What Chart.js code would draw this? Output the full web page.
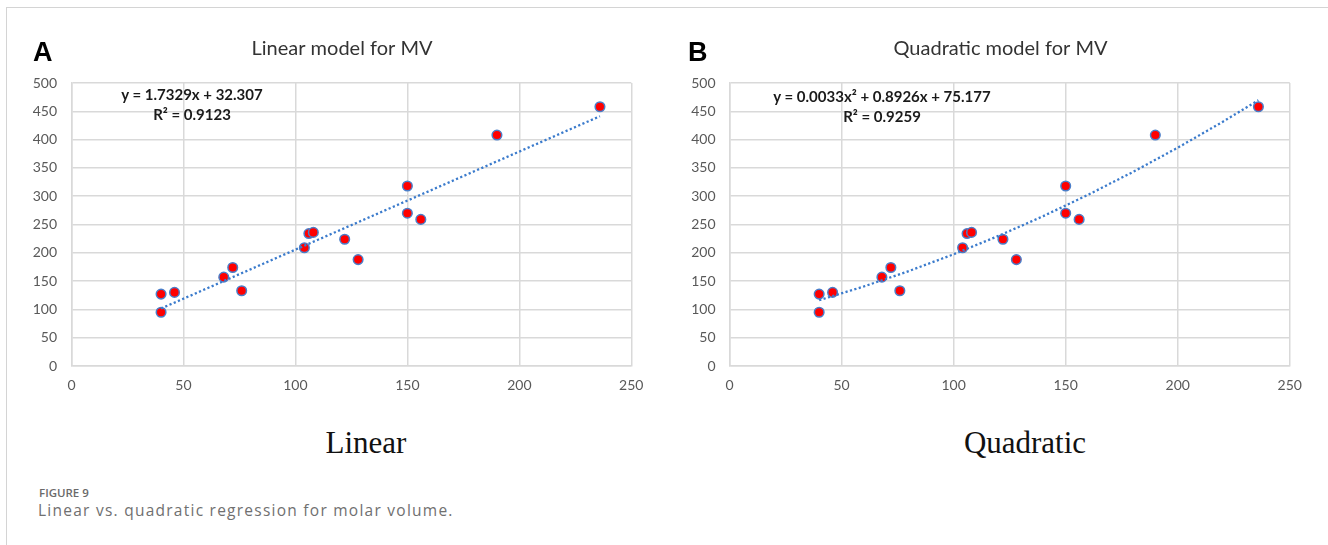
<!DOCTYPE html>
<html>
<head>
<meta charset="utf-8">
<script src="https://cdn.jsdelivr.net/npm/chart.js@4.4.0/dist/chart.umd.min.js"></script>
<style>
  html, body { margin: 0; padding: 0; background: #fff; overflow: hidden; }
  #page { position: relative; width: 1328px; height: 545px; overflow: hidden; }
  #frame { position: absolute; left: 6px; top: 7px; width: 1340px; height: 600px;
           border-top: 1.5px solid #d4d4d4; border-left: 1.5px solid #d4d4d4; }
  .box { position: absolute; top: 0; height: 410px; }
  .panel { position: absolute; font: bold 27px "Liberation Sans", Arial, sans-serif; line-height: 27px; color: #000; }
  .eq { position: absolute; width: 320px; text-align: center; font: bold 15px Lato, sans-serif;
        line-height: 15px; color: #1a1a1a; white-space: nowrap; }
  .model { position: absolute; width: 300px; text-align: center; font: 31px "Liberation Serif", serif;
           line-height: 31px; color: #111; }
  #fig { position: absolute; left: 39px; top: 487px; font: 600 11.5px "Open Sans", sans-serif;
         line-height: 12px; color: #6a6a6a; }
  #cap { position: absolute; left: 38px; top: 502px; font: 15.5px "Open Sans", sans-serif;
         line-height: 16px; color: #707070; letter-spacing: 1.25px; white-space: nowrap; }
</style>
</head>
<body>
<div id="page">
  <div id="frame"></div>
  <div class="box" style="left:0px;width:684px"><canvas id="chart_linear" width="684" height="410"></canvas></div>
  <div class="box" style="left:657.5px;width:685px"><canvas id="chart_quad" width="685" height="410"></canvas></div>

  <div class="panel" style="left:33px;top:39px">A</div>
  <div class="panel" style="left:688px;top:39px">B</div>

  <div class="eq" style="left:32px;top:87px">y = 1.7329x + 32.307</div>
  <div class="eq" style="left:32px;top:107px">R² = 0.9123</div>
  <div class="eq" style="left:722px;top:89px">y = 0.0033x² + 0.8926x + 75.177</div>
  <div class="eq" style="left:722px;top:109px">R² = 0.9259</div>

  <div class="model" style="left:216px;top:427px">Linear</div>
  <div class="model" style="left:875px;top:427px">Quadratic</div>

  <div id="fig">FIGURE 9</div>
  <div id="cap">Linear vs. quadratic regression for molar volume.</div>
</div>

<script>
// measured points (x, MV)
const mvX = [40, 40, 46, 68, 72, 76, 104, 106, 108, 122, 128, 150, 150, 156, 190, 236];
const mvY = [127, 95, 130, 157, 174, 133, 209, 234, 236, 224, 188, 318, 270, 259, 408, 458];

// trendlines
const linTrendX = [40, 236];
const linTrendY = [101.6, 441.3];
const quadTrendX = [40, 60, 80, 100, 120, 140, 160, 180, 200, 220, 236];
const quadTrendY = [116.2, 140.6, 167.7, 197.4, 229.8, 264.8, 302.5, 342.8, 385.7, 431.3, 469.6];

const xTicks = [0, 50, 100, 150, 200, 250];
const yTicks = [0, 50, 100, 150, 200, 250, 300, 350, 400, 450, 500];

Chart.defaults.font.family = 'Lato, sans-serif';

function toPoints(xs, ys) {
    return xs.map((x, i) => ({x: x, y: ys[i]}));
}

// rightW = width of an empty right axis, so the title sits where Excel put it
function set_graph(id, title, trendX, trendY, rightW, yPad) {
    const ctx = document.getElementById(id).getContext('2d');
    const gridColor = '#d9d9d9';
    return new Chart(ctx, {
        type: 'scatter',
        data: {
            datasets: [
                {
                    data: toPoints(trendX, trendY),
                    showLine: true,
                    borderColor: '#3b7bcc',
                    borderWidth: 2.3,
                    borderDash: [2.2, 2.4],
                    pointRadius: 0,
                    fill: false,
                    order: 0
                },
                {
                    data: toPoints(mvX, mvY),
                    pointRadius: 4.8,
                    pointBackgroundColor: '#ff0000',
                    pointBorderColor: '#4a7ec9',
                    pointBorderWidth: 1.5,
                    order: 1
                }
            ]
        },
        options: {
            responsive: false,
            animation: false,
            devicePixelRatio: 1,
            layout: { padding: 0 },
            plugins: {
                legend: { display: false },
                tooltip: { enabled: false },
                title: {
                    display: true,
                    text: title,
                    color: '#333333',
                    font: { size: 20, weight: 'normal' },
                    padding: { top: 37, bottom: 22 }
                }
            },
            scales: {
                x: {
                    type: 'linear',
                    min: 0,
                    max: 250,
                    afterBuildTicks: s => { s.ticks = xTicks.map(v => ({value: v})); },
                    afterFit: s => { s.height = 44; },
                    grid: { color: gridColor, lineWidth: 1.5, drawTicks: false },
                    border: { display: true, color: gridColor, width: 1.5 },
                    ticks: { color: '#595959', font: { size: 14 }, padding: 11 }
                },
                y: {
                    type: 'linear',
                    min: 0,
                    max: 500,
                    afterBuildTicks: s => { s.ticks = yTicks.map(v => ({value: v})); },
                    afterFit: s => { s.width = 71.5; },
                    grid: { color: gridColor, lineWidth: 1.5, drawTicks: false },
                    border: { display: true, color: gridColor, width: 1.5 },
                    ticks: { color: '#595959', font: { size: 14 }, padding: yPad }
                },
                y2: {
                    type: 'linear',
                    position: 'right',
                    min: 0,
                    max: 500,
                    afterFit: s => { s.width = rightW; },
                    grid: { display: false, drawTicks: false },
                    border: { display: false },
                    ticks: { display: false }
                }
            }
        }
    });
}

set_graph('chart_linear', 'Linear model for MV', linTrendX, linTrendY, 52.7, 14.5);
set_graph('chart_quad', 'Quadratic model for MV', quadTrendX, quadTrendY, 53.2, 14);
</script>
</body>
</html>
